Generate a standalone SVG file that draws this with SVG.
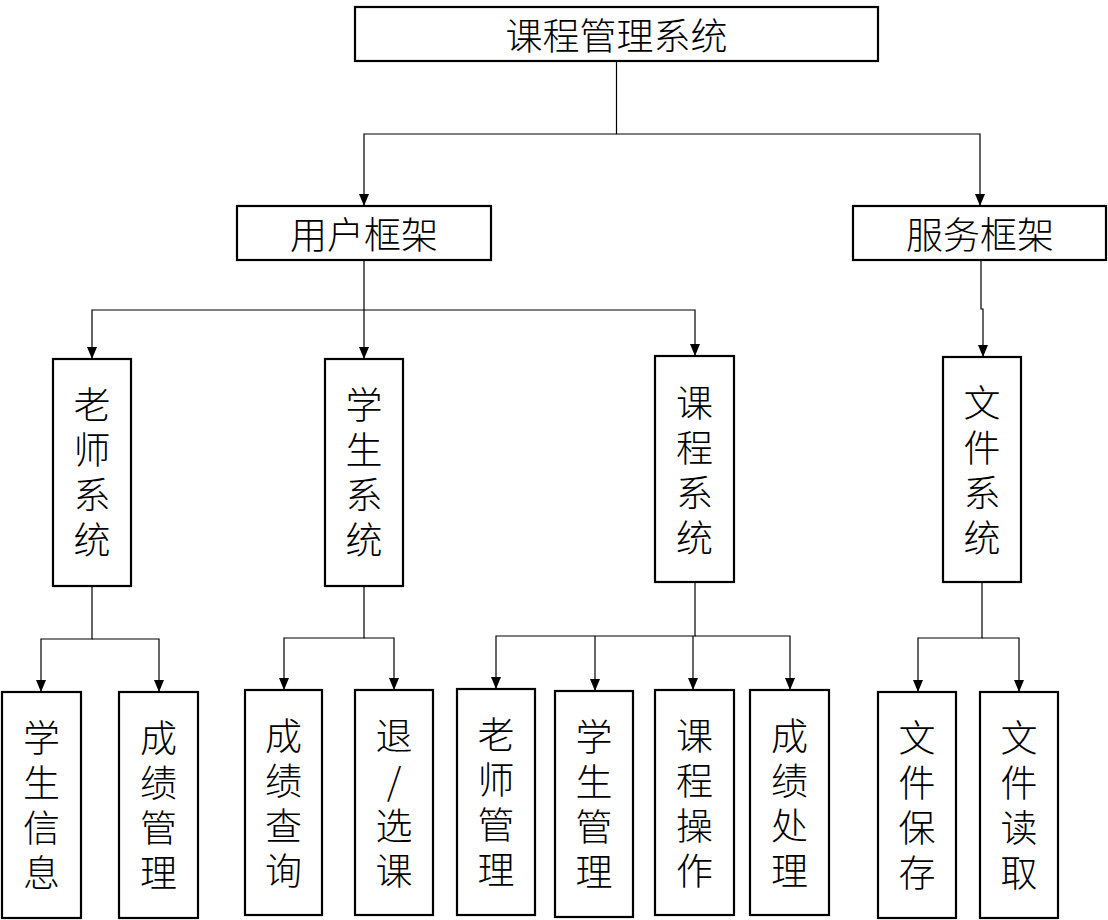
<svg xmlns="http://www.w3.org/2000/svg" width="1108" height="920" viewBox="0 0 1108 920">
<defs>
<style>
.box{fill:#fff;stroke:#000;stroke-width:2.2}
.t{font-family:"Noto Sans CJK SC","Noto Sans",sans-serif;font-size:37px;font-weight:300;fill:#000;text-anchor:middle;dominant-baseline:central}
.v{font-family:"Noto Sans CJK SC","Noto Sans",sans-serif;font-size:37px;font-weight:300;fill:#000;text-anchor:middle;writing-mode:vertical-rl;text-orientation:upright;letter-spacing:8px}
.c{fill:none;stroke:#000;stroke-width:1.2}
</style>
</defs>
<rect width="1108" height="920" fill="#fff"/>
<g id="connectors">
<path class="c" d="M616.5,61 V134 H364 V205"/>
<path class="c" d="M616.5,134 H980 V205"/>
<path class="c" d="M364,260 V310 H92 V358"/>
<path class="c" d="M364,310 V358"/>
<path class="c" d="M364,310 H695 V355"/>
<path class="c" d="M981,260 V309 H983 V356"/>
<path class="c" d="M92,586 V639 H41 V691"/>
<path class="c" d="M92,639 H159 V691"/>
<path class="c" d="M364,586 V638 H284 V689"/>
<path class="c" d="M364,638 H394 V689"/>
<path class="c" d="M695,582 V636 H496 V688"/>
<path class="c" d="M595,636 V690"/>
<path class="c" d="M693,636 V689"/>
<path class="c" d="M695,636 H790 V689"/>
<path class="c" d="M982,582 V638 H918 V691"/>
<path class="c" d="M982,638 H1019 V691"/>
<g fill="#000">
<path d="M359,194 L369,194 L364,206 Z"/>
<path d="M975,194 L985,194 L980,206 Z"/>
<path d="M87,347 L97,347 L92,359 Z"/>
<path d="M359,347 L369,347 L364,359 Z"/>
<path d="M690,344 L700,344 L695,356 Z"/>
<path d="M978,345 L988,345 L983,357 Z"/>
<path d="M36,680 L46,680 L41,692 Z"/>
<path d="M154,680 L164,680 L159,692 Z"/>
<path d="M279,678 L289,678 L284,690 Z"/>
<path d="M389,678 L399,678 L394,690 Z"/>
<path d="M491,677 L501,677 L496,689 Z"/>
<path d="M590,679 L600,679 L595,691 Z"/>
<path d="M688,678 L698,678 L693,690 Z"/>
<path d="M785,678 L795,678 L790,690 Z"/>
<path d="M913,680 L923,680 L918,692 Z"/>
<path d="M1014,680 L1024,680 L1019,692 Z"/>
</g>
</g>
<g id="n-root"><rect class="box" x="355" y="7" width="523" height="54"/><text class="t" x="616.5" y="34">课程管理系统</text></g>
<g id="n-user"><rect class="box" x="237" y="206" width="254" height="54"/><text class="t" x="364" y="233">用户框架</text></g>
<g id="n-service"><rect class="box" x="853" y="206" width="253" height="54"/><text class="t" x="980" y="233">服务框架</text></g>
<g id="n-teacher"><rect class="box" x="53" y="359" width="78" height="227"/><text class="v" x="92" y="476">老师系统</text></g>
<g id="n-student"><rect class="box" x="325" y="359" width="78" height="227"/><text class="v" x="364" y="476">学生系统</text></g>
<g id="n-course"><rect class="box" x="655" y="356" width="79" height="226"/><text class="v" x="694.5" y="474">课程系统</text></g>
<g id="n-file"><rect class="box" x="943" y="357" width="78" height="225"/><text class="v" x="982" y="474">文件系统</text></g>
<g id="n-stuinfo"><rect class="box" x="2" y="692" width="79" height="226"/><text class="v" x="41.5" y="809">学生信息</text></g>
<g id="n-grademgr"><rect class="box" x="119" y="692" width="79" height="226"/><text class="v" x="158.5" y="809">成绩管理</text></g>
<g id="n-gradequery"><rect class="box" x="245" y="690" width="77" height="225"/><text class="v" x="283.5" y="807">成绩查询</text></g>
<g id="n-select"><rect class="box" x="355" y="690" width="78" height="225"/><text class="v" x="394" y="807">退/选课</text></g>
<g id="n-teachermgr"><rect class="box" x="457" y="689" width="78" height="226"/><text class="v" x="496" y="806">老师管理</text></g>
<g id="n-studentmgr"><rect class="box" x="555" y="691" width="78" height="226"/><text class="v" x="594" y="808">学生管理</text></g>
<g id="n-courseop"><rect class="box" x="655" y="690" width="79" height="225"/><text class="v" x="694.5" y="807">课程操作</text></g>
<g id="n-gradeproc"><rect class="box" x="750" y="690" width="79" height="225"/><text class="v" x="789.5" y="807">成绩处理</text></g>
<g id="n-filesave"><rect class="box" x="878" y="692" width="78" height="226"/><text class="v" x="917" y="809">文件保存</text></g>
<g id="n-fileread"><rect class="box" x="980" y="692" width="78" height="226"/><text class="v" x="1019" y="809">文件读取</text></g>
</svg>
